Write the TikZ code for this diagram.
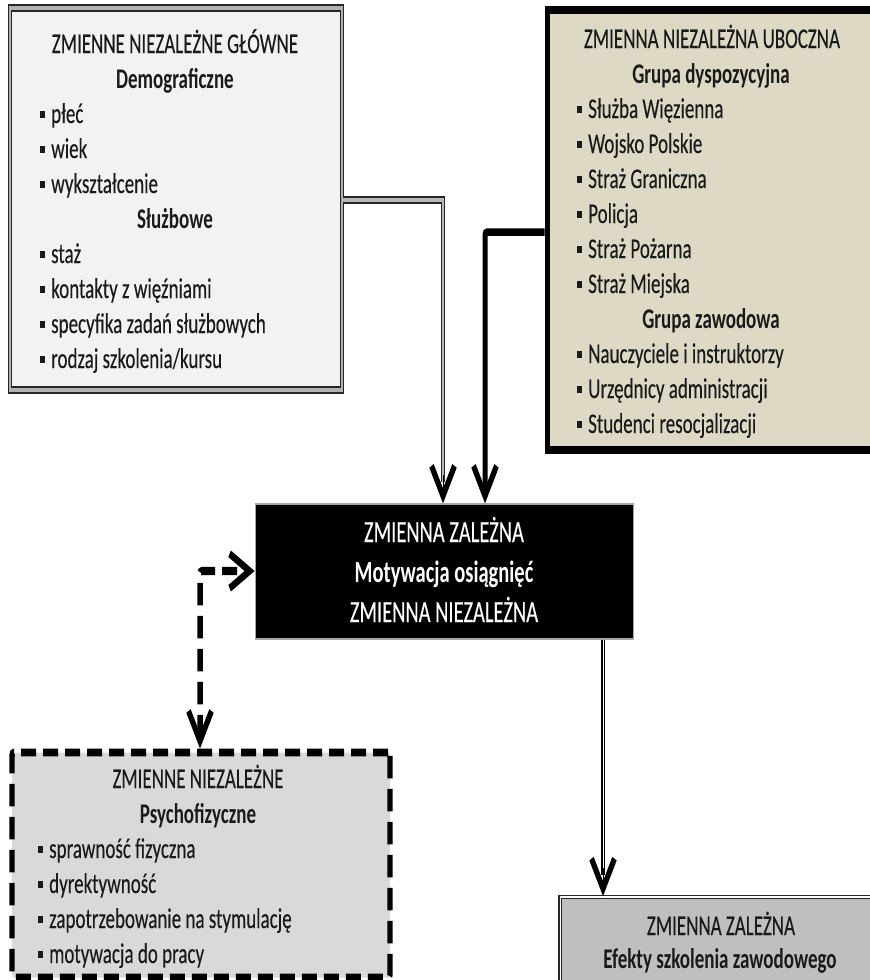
\documentclass[tikz,border=0pt]{standalone}
\usepackage{fontspec}
\setmainfont{Carlito}[UprightFeatures={FakeBold=0.3}]
\usetikzlibrary{arrows.meta}
\definecolor{tlfill}{HTML}{F2F2F2}
\definecolor{trfill}{HTML}{DDD9C4}
\definecolor{blfill}{HTML}{D9D9D9}
\definecolor{brfill}{HTML}{BFBFBF}
\definecolor{txt}{HTML}{1A1A1A}
\newcommand\bodyfont{\fontsize{19}{22}\selectfont}
\newcommand\midfont{\fontsize{20.5}{24}\selectfont}
\newcommand\mybullet{\rule[3.4pt]{5pt}{4.8pt}\hspace{6pt}}
\tikzset{
  vtip/.tip={Straight Barb[length=20pt, width=23pt, line width=5pt]},
  txtline/.style={inner sep=0pt, anchor=base, text=txt, font=\bodyfont},
  itemline/.style={inner sep=0pt, anchor=base west, text=txt, font=\bodyfont},
  midline/.style={inner sep=0pt, anchor=base, text=white, font=\midfont},
  boxbase/.style={rectangle, inner sep=0pt},
  tlbox/.style={boxbase, fill=tlfill, draw=black!85, line width=1.2pt, double=gray!60, double distance=2.3pt},
  trbox/.style={boxbase, fill=trfill, draw=black, line width=5pt},
  cmbox/.style={boxbase, fill=black, draw=gray!70, line width=0.8pt},
  blbox/.style={boxbase, fill=blfill, draw=black, line width=5.3pt, dash pattern=on 15pt off 7pt, rounded corners=2pt},
  brbox/.style={boxbase, fill=brfill, draw=black!85, line width=1.1pt, double=white, double distance=1pt},
  bigtip/.style={-{vtip}},
  dtip/.style={{vtip}-{vtip}},
  dblconn/.style={draw=black!85, line width=1.3pt, double=gray!55, double distance=2.3pt},
  thkconn/.style={draw=black, line width=5pt, rounded corners=2pt},
  dshconn/.style={draw=black, line width=5.5pt, dash pattern=on 15pt off 7pt, rounded corners=2pt},
  thinconn/.style={draw=black, line width=1.4pt, double=white, double distance=1pt},
}
\begin{document}
\begin{tikzpicture}[x=1pt, y=-1pt]
\useasboundingbox (0,0) rectangle (870,980);
\fill[white] (0,0) rectangle (870,980);
\begin{scope}[x=1pt, y=-0.666667pt, transform canvas={yscale=1.5}]
\clip (0,0) rectangle (870,980);

% boxes
\node[tlbox, minimum width=332pt, minimum height=254.67pt] (tl) at (176,199) {};
\node[trbox, minimum width=338pt, minimum height=293.33pt] (tr) at (716,230) {};
\node[cmbox, minimum width=378pt, minimum height=90pt] (cm) at (444,571.5) {};
\node[blbox, minimum width=378pt, minimum height=150pt] (bl) at (201,865) {};
\node[brbox, minimum width=330pt, minimum height=68.67pt] (br) at (725,948.5) {};

% top-left text
\node[txtline] (tlt) at (175,53) {ZMIENNE NIEZALEŻNE GŁÓWNE};
\node[txtline, font=\bodyfont\bfseries] (tlh1) at (175,88) {Demograficzne};
\foreach \t [count=\i] in {płeć, wiek, wykształcenie}
  \node[itemline] (tla\i) at (40,88+35*\i) {\mybullet\t};
\node[txtline, font=\bodyfont\bfseries] (tlh2) at (175,228) {Służbowe};
\foreach \t [count=\i] in {staż, kontakty z więźniami, specyfika zadań służbowych, rodzaj szkolenia/kursu}
  \node[itemline] (tlb\i) at (40,228+35*\i) {\mybullet\t};

% top-right text
\node[txtline] (trt) at (712,48) {ZMIENNA NIEZALEŻNA UBOCZNA};
\node[txtline, font=\bodyfont\bfseries] (trh1) at (711,83) {Grupa dyspozycyjna};
\foreach \t [count=\i] in {Służba Więzienna, Wojsko Polskie, Straż Graniczna, Policja, Straż Pożarna, Straż Miejska}
  \node[itemline] (tra\i) at (577,83+35*\i) {\mybullet\t};
\node[txtline, font=\bodyfont\bfseries] (trh2) at (711,328) {Grupa zawodowa};
\foreach \t [count=\i] in {Nauczyciele i instruktorzy, Urzędnicy administracji, Studenci resocjalizacji}
  \node[itemline] (trb\i) at (577,328+35*\i) {\mybullet\t};

% centre text
\node[midline] (cm1) at (444,542) {ZMIENNA ZALEŻNA};
\node[midline, font=\midfont\bfseries] (cm2) at (444,582) {Motywacja osiągnięć};
\node[midline] (cm3) at (444,622) {ZMIENNA NIEZALEŻNA};

% bottom-left text
\node[txtline] (blt) at (198,788) {ZMIENNE NIEZALEŻNE};
\node[txtline, font=\bodyfont\bfseries] (blh) at (198,823) {Psychofizyczne};
\foreach \t [count=\i] in {sprawność fizyczna, dyrektywność, zapotrzebowanie na stymulację, motywacja do pracy}
  \node[itemline] (bla\i) at (38,823+35*\i) {\mybullet\t};

% bottom-right text
\node[txtline] (brt) at (721,935) {ZMIENNA ZALEŻNA};
\node[txtline, font=\bodyfont\bfseries] (brh) at (720,968) {Efekty szkolenia zawodowego};

% connectors
\coordinate (k1) at (443,200);
\coordinate (k2) at (485,232);
\coordinate (k3) at (200,571);
\coordinate (k4) at (603,0);
\draw[dblconn] (tl.east |- k1) -- (k1) -- ([yshift=14pt]k1 |- cm.north);
\draw[bigtip, draw=black, line width=1pt] ([yshift=19pt]k1 |- cm.north) -- (k1 |- cm.north);
\draw[thkconn, bigtip] (tr.west |- k2) -- (k2) -- (k2 |- cm.north);
\draw[dshconn, dtip] (k3 |- bl.north) -- (k3) -- (cm.west |- k3);
\draw[thinconn] (cm.south -| k4) -- ([yshift=14pt]br.north -| k4);
\draw[bigtip, draw=black, line width=1pt] ([yshift=19pt]br.north -| k4) -- (br.north -| k4);
\end{scope}
\end{tikzpicture}
\end{document}
